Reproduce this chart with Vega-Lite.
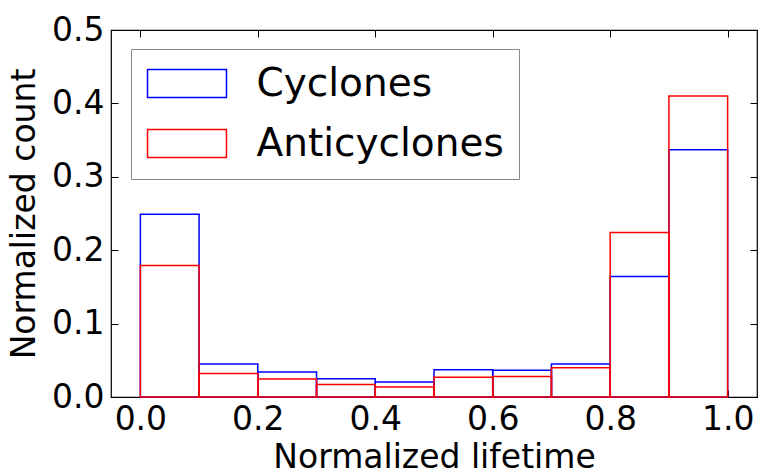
{
  "$schema": "https://vega.github.io/schema/vega-lite/v6.json",
  "width": 646,
  "height": 367,
  "autosize": {"type": "none"},
  "padding": {"left": 111, "top": 30, "right": 1, "bottom": 75},
  "config": {
    "font": "DejaVu Sans",
    "view": {"stroke": "black", "strokeWidth": 1.2},
    "axis": {
      "domain": false,
      "grid": false,
      "ticks": true,
      "tickColor": "black",
      "tickWidth": 1,
      "tickSize": -7,
      "labelColor": "black",
      "labelFont": "DejaVu Sans",
      "labelFontSize": 33,
      "titleFont": "DejaVu Sans",
      "titleFontSize": 33,
      "titleFontWeight": "normal",
      "titleColor": "black"
    }
  },
  "data": {
    "values": [
      {"series": "Cyclones", "start": 0.0, "end": 0.1, "value": 0.249},
      {"series": "Cyclones", "start": 0.1, "end": 0.2, "value": 0.045},
      {"series": "Cyclones", "start": 0.2, "end": 0.3, "value": 0.034},
      {"series": "Cyclones", "start": 0.3, "end": 0.4, "value": 0.025},
      {"series": "Cyclones", "start": 0.4, "end": 0.5, "value": 0.0205},
      {"series": "Cyclones", "start": 0.5, "end": 0.6, "value": 0.037},
      {"series": "Cyclones", "start": 0.6, "end": 0.7, "value": 0.0365},
      {"series": "Cyclones", "start": 0.7, "end": 0.8, "value": 0.045},
      {"series": "Cyclones", "start": 0.8, "end": 0.9, "value": 0.164},
      {"series": "Cyclones", "start": 0.9, "end": 1.0, "value": 0.337},
      {"series": "Anticyclones", "start": 0.0, "end": 0.1, "value": 0.179},
      {"series": "Anticyclones", "start": 0.1, "end": 0.2, "value": 0.032},
      {"series": "Anticyclones", "start": 0.2, "end": 0.3, "value": 0.0245},
      {"series": "Anticyclones", "start": 0.3, "end": 0.4, "value": 0.017},
      {"series": "Anticyclones", "start": 0.4, "end": 0.5, "value": 0.0135},
      {"series": "Anticyclones", "start": 0.5, "end": 0.6, "value": 0.027},
      {"series": "Anticyclones", "start": 0.6, "end": 0.7, "value": 0.028},
      {"series": "Anticyclones", "start": 0.7, "end": 0.8, "value": 0.040},
      {"series": "Anticyclones", "start": 0.8, "end": 0.9, "value": 0.224},
      {"series": "Anticyclones", "start": 0.9, "end": 1.0, "value": 0.410}
    ]
  },
  "layer": [
    {
      "mark": {"type": "rect", "filled": false, "strokeWidth": 1.5},
      "encoding": {
        "x": {
          "field": "start", "type": "quantitative",
          "scale": {"domain": [-0.05, 1.05], "nice": false, "zero": false},
          "axis": {"orient": "bottom", "values": [0, 0.2, 0.4, 0.6, 0.8, 1.0], "format": ".1f", "labelPadding": 13, "title": "Normalized lifetime", "titlePadding": 5}
        },
        "x2": {"field": "end"},
        "y": {
          "field": "value", "type": "quantitative",
          "scale": {"domain": [0, 0.5], "nice": false},
          "axis": {"orient": "left", "values": [0, 0.1, 0.2, 0.3, 0.4, 0.5], "format": ".1f", "labelPadding": 14, "title": "Normalized count", "titlePadding": 10}
        },
        "y2": {"datum": 0},
        "color": {
          "field": "series", "type": "nominal",
          "scale": {"domain": ["Cyclones", "Anticyclones"], "range": ["#0000ff", "#ff0000"]},
          "legend": {
            "title": null,
            "orient": "none",
            "legendX": 20,
            "legendY": 19,
            "symbolType": "M-2.82,-1H2.82V1H-2.82Z",
            "symbolSize": 784,
            "symbolOffset": 21.5,
            "symbolStrokeWidth": 1.5,
            "symbolFillColor": "transparent",
            "labelFontSize": 39,
            "labelFont": "DejaVu Sans",
            "labelColor": "black",
            "labelOffset": 50,
            "rowPadding": 20,
            "padding": 15,
            "strokeColor": "#888888",
            "fillColor": "white",
            "labelLimit": 400
          }
        }
      }
    },
    {
      "mark": {"type": "rect", "opacity": 0},
      "encoding": {
        "x": {
          "field": "start", "type": "quantitative",
          "scale": {"domain": [-0.05, 1.05], "nice": false, "zero": false},
          "axis": {"orient": "top", "values": [0, 0.2, 0.4, 0.6, 0.8, 1.0], "labels": false, "title": null}
        },
        "x2": {"field": "end"},
        "y": {
          "field": "value", "type": "quantitative",
          "scale": {"domain": [0, 0.5], "nice": false},
          "axis": {"orient": "right", "values": [0, 0.1, 0.2, 0.3, 0.4, 0.5], "labels": false, "title": null}
        },
        "y2": {"datum": 0}
      }
    }
  ],
  "resolve": {"axis": {"x": "independent", "y": "independent"}}
}
